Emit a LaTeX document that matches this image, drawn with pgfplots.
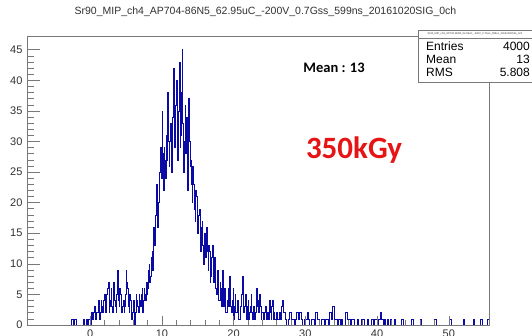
\documentclass[border=0pt]{standalone}
\usepackage{pgfplots}
\pgfplotsset{compat=1.18}
\usepackage{fontspec}
\setmainfont{Liberation Sans}
\newfontfamily\calibri{Carlito}

\definecolor{histblue}{RGB}{10,10,165}
\definecolor{framegray}{RGB}{120,120,120}
\definecolor{labelgray}{RGB}{50,50,50}

% Sr90 MIP signal spectrum (left bin edge, entries);
% 0.1 wide bins in the core, 0.2 wide bins in the tail
\pgfplotstableread{
x y
-8.8 0
-2.6 1
-2.4 0
-2.2 1
-2.0 0
-1.0 1
-0.8 0
-0.6 1
-0.4 0
-0.2 1
0.0 1
0.1 0
0.2 2
0.3 1
0.4 1
0.5 2
0.6 3
0.7 1
0.8 1
0.9 2
1.0 2
1.1 3
1.2 4
1.3 1
1.4 2
1.5 4
1.6 3
1.7 2
1.8 2
1.9 4
2.0 5
2.1 2
2.2 3
2.3 5
2.4 6
2.5 7
2.6 2
2.7 3
2.8 4
2.9 6
3.0 3
3.1 2
3.2 7
3.3 5
3.4 4
3.5 3
3.6 2
3.7 5
3.8 9
3.9 4
4.0 3
4.1 6
4.2 5
4.3 2
4.4 2
4.5 3
4.6 4
4.7 2
4.8 3
4.9 5
5.0 9
5.1 7
5.2 6
5.3 3
5.4 2
5.5 5
5.6 4
5.7 3
5.8 1
5.9 2
6.0 4
6.1 3
6.2 0
6.3 2
6.4 5
6.5 4
6.6 3
6.7 2
6.8 5
6.9 4
7.0 3
7.1 5
7.2 6
7.3 2
7.4 4
7.5 6
7.6 5
7.7 4
7.8 7
7.9 5
8.0 6
8.1 9
8.2 10
8.3 7
8.4 8
8.5 11
8.6 12
8.7 9
8.8 16
8.9 14
9.0 13
9.1 18
9.2 23
9.3 17
9.4 16
9.5 20
9.6 21
9.7 25
9.8 29
9.9 24
10.0 35
10.1 28
10.2 22
10.3 29
10.4 27
10.5 24
10.6 31
10.7 27
10.8 38
10.9 30
11.0 26
11.1 30
11.2 33
11.3 25
11.4 28
11.5 34
11.6 42
11.7 29
11.8 30
11.9 36
12.0 40
12.1 32
12.2 27
12.3 35
12.4 43
12.5 29
12.6 31
12.7 38
12.8 45
12.9 33
13.0 25
13.1 30
13.2 36
13.3 28
13.4 34
13.5 29
13.6 22
13.7 37
13.8 30
13.9 26
14.0 27
14.1 23
14.2 20
14.3 26
14.4 23
14.5 19
14.6 17
14.7 22
14.8 21
14.9 16
15.0 15
15.1 18
15.2 19
15.3 14
15.4 12
15.5 16
15.6 17
15.7 13
15.8 10
15.9 15
16.0 14
16.1 11
16.2 16
16.3 12
16.4 9
16.5 13
16.6 12
16.7 7
16.8 8
16.9 11
17.0 13
17.1 9
17.2 7
17.3 11
17.4 10
17.5 6
17.6 5
17.7 9
17.8 8
17.9 4
18.0 4
18.1 7
18.2 6
18.3 3
18.4 9
18.5 5
18.6 3
18.7 6
18.8 5
18.9 2
19.0 2
19.1 4
19.2 6
19.3 3
19.4 8
19.5 5
19.6 3
19.7 2
19.8 4
19.9 6
20.0 1
20.1 3
20.2 5
20.3 2
20.4 2
20.5 4
20.6 4
20.7 1
20.8 1
20.9 3
21.0 3
21.1 5
21.2 8
21.3 4
21.4 2
21.5 3
21.6 5
21.7 2
21.8 1
21.9 3
22.0 4
22.1 1
22.2 2
22.3 3
22.4 5
22.5 2
22.6 1
22.7 2
22.8 3
22.9 1
23.0 2
23.1 4
23.2 6
23.3 3
23.4 4
23.5 2
23.6 5
23.7 3
23.8 1
23.9 2
24.0 2
24.1 1
24.2 1
24.3 2
24.4 3
24.5 1
24.6 1
24.7 2
24.8 2
24.9 1
25.0 4
25.1 2
25.2 1
25.3 3
25.4 4
25.5 1
25.6 2
25.7 1
25.8 1
25.9 2
26.0 2
26.1 1
26.2 1
26.3 2
26.4 2
26.5 1
26.6 1
26.7 3
26.8 4
26.9 2
27.0 2
27.2 1
27.4 0
27.6 1
27.8 2
28.0 1
28.2 1
28.4 0
28.6 1
28.8 2
29.0 1
29.2 2
29.4 1
29.6 0
29.8 1
30.0 1
30.2 2
30.4 1
30.6 0
30.8 1
31.0 1
31.2 0
31.4 2
31.6 1
31.8 1
32.0 0
32.2 1
32.4 1
32.6 0
32.8 1
33.0 1
33.2 0
33.4 2
33.6 1
33.8 3
34.0 1
34.2 1
34.4 0
34.6 1
34.8 0
35.0 1
35.2 0
35.6 2
35.8 1
36.0 1
36.2 0
36.4 1
36.6 1
36.8 0
37.2 1
37.4 0
37.8 1
38.0 1
38.2 0
38.6 1
38.8 0
39.2 1
39.4 0
39.6 1
39.8 1
40.0 0
40.2 1
40.4 2
40.6 1
40.8 0
41.0 1
41.2 0
41.4 1
41.6 0
41.8 1
42.0 0
42.4 1
42.6 0
43.4 1
43.6 0
44.8 1
45.0 0
46.0 1
46.2 0
48.0 1
48.2 0
50.0 1
50.2 1
50.4 0
52.0 1
52.2 0
53.4 1
53.6 0
54.4 1
54.6 0
55.4 1
55.6 1
}\histdata

\begin{document}
\begin{tikzpicture}[x=1pt,y=1pt]
\useasboundingbox (0,0) rectangle (532,336);
\fill[white] (0,0) rectangle (532,336);

% frame, y ticks and the histogram
\begin{axis}[
  at={(27pt,11pt)}, anchor=south west,
  scale only axis, width=462pt, height=289pt,
  xmin=-8.8, xmax=55.6, ymin=0, ymax=47.25,
  xtick=\empty,
  ytick={0,5,...,45}, minor y tick num=4,
  ytick pos=left, tick align=inside,
  major tick length=13pt, minor tick length=7pt,
  axis line style={framegray, line width=0.8pt},
  tick style={framegray, line width=0.6pt},
  yticklabel shift=1pt,
  yticklabel style={font=\fontsize{11}{11}\selectfont, text=labelgray},
  /pgf/number format/assume math mode=true,
  clip=true,
]
\addplot[const plot mark left, histblue, line width=0.55pt] table[x=x, y=y] {\histdata};
\end{axis}

% x ticks with their own lengths
\begin{axis}[
  at={(27pt,11pt)}, anchor=south west,
  scale only axis, width=462pt, height=289pt,
  xmin=-8.8, xmax=55.6, ymin=0, ymax=47.25,
  axis x line*=bottom, axis y line=none,
  xtick={0,10,...,50}, minor x tick num=4,
  tick align=inside,
  major tick length=9pt, minor tick length=5pt,
  axis line style={framegray, line width=0.8pt},
  tick style={framegray, line width=0.6pt},
  xticklabel shift=1pt,
  xticklabel style={font=\fontsize{11}{11}\selectfont, text=labelgray},
  /pgf/number format/assume math mode=true,
]
\addplot[draw=none] coordinates {(0,0)};
\end{axis}

% title
\node[text=labelgray, font=\fontsize{10.5}{11}\selectfont] at (265.5,324)
  {Sr90\_MIP\_ch4\_AP704-86N5\_62.95uC\_-200V\_0.7Gss\_599ns\_20161020SIG\_0ch};

% statistics box
\draw[framegray, fill=white, line width=0.7pt] (418,254) rectangle (534,306);
\draw[framegray, line width=0.5pt] (418,298) -- (534,298);
\node[text=labelgray, font=\fontsize{2.6}{3}\selectfont, inner sep=0pt] at (475,302)
  {Sr90\_MIP\_ch4\_AP704-86N5\_62.95uC\_-200V\_0.7Gss\_599ns\_20161020SIG\_0ch};
\begin{scope}[font=\fontsize{12}{12}\selectfont, text=black, inner sep=0pt]
  \node[anchor=west] at (426,290) {Entries};
  \node[anchor=east] at (530,290) {4000};
  \node[anchor=west] at (426,277) {Mean};
  \node[anchor=east] at (530,277) {13};
  \node[anchor=west] at (426,264) {RMS};
  \node[anchor=east] at (530,264) {5.808};
\end{scope}

% annotations
\node[font=\calibri\bfseries\fontsize{14.5}{15}\selectfont, text=black] at (334,268) {Mean : 13};
\node[font=\calibri\bfseries\fontsize{31}{31}\selectfont, text={rgb,255:red,230;green,20;blue,20}] at (354,186) {350kGy};
\end{tikzpicture}
\end{document}
